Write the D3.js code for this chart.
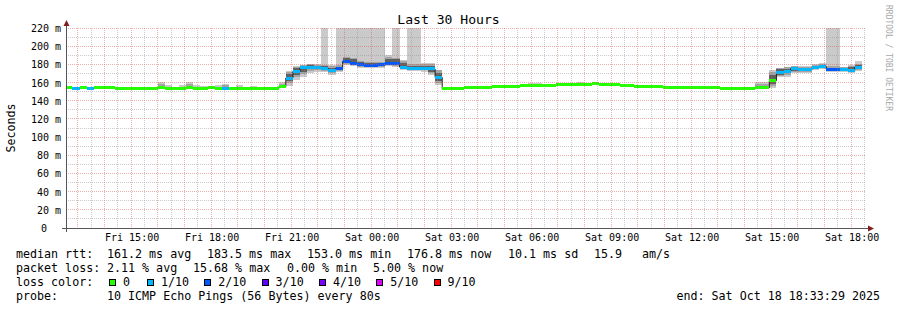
<!DOCTYPE html>
<html>
<head>
<meta charset="utf-8">
<script src="https://cdnjs.cloudflare.com/ajax/libs/d3/7.8.5/d3.min.js"></script>
<style>
    body { margin: 0; background: #ffffff; }
    svg { display: block; }
    text { font-family: "DejaVu Sans Mono", monospace; white-space: pre; fill: #000000; }
</style>
</head>
<body>
<div id="chart"></div>
<script>
//chart data
var title = "Last 30 Hours";
var yLabel = "Seconds";
var startTime = "2025-10-17T12:33:29Z";
var endTime = "2025-10-18T18:33:29Z";

//rrd bins are 16 minutes wide, first one starts Fri 12:32
var binStart = "2025-10-17T12:32:00Z";
var binMinutes = 16;

//median rtt (ms) per bin
var medianRtt = [
    154.2, 153.6, 154.2, 153.6, 154.2, 154.2, 154.2, 153.6, 153.6, 153.6,
    153.0, 153.0, 153.0, 154.2, 153.3, 153.3, 153.3, 154.8, 153.3, 153.3,
    154.2, 153.0, 153.9, 153.0, 153.0, 153.0, 153.0, 153.0, 153.0, 153.0,
    155.3, 165.0, 172.2, 176.4, 177.1, 176.4, 175.3, 173.4, 175.6, 183.5,
    181.5, 179.8, 178.9, 178.9, 179.3, 180.5, 180.4, 177.0, 175.9, 175.6,
    175.3, 174.9, 165.7, 153.0, 153.0, 153.0, 154.2, 154.2, 154.2, 154.8,
    155.5, 155.5, 155.5, 155.9, 156.4, 156.6, 156.6, 156.8, 156.8, 157.5,
    157.5, 157.5, 157.8, 158.3, 159.0, 157.6, 157.6, 157.6, 156.8, 156.8,
    156.1, 155.7, 155.7, 155.7, 155.0, 154.6, 154.6, 154.1, 154.1, 154.1,
    154.1, 154.1, 153.4, 153.4, 153.0, 153.0, 153.0, 154.2, 154.2, 162.1,
    170.7, 172.4, 175.5, 174.2, 174.2, 176.6, 177.7, 174.6, 174.6, 174.6,
    173.3, 176.8
];

//loss bucket per bin (index into lossLabels / lossColors)
var lossLevel = [
    0, 1, 0, 1, 0, 0, 0, 0, 0, 0,
    0, 0, 0, 0, 0, 0, 0, 0, 0, 0,
    0, 0, 1, 0, 0, 0, 0, 0, 0, 0,
    0, 1, 1, 1, 1, 1, 1, 1, 2, 2,
    2, 2, 2, 2, 2, 2, 2, 1, 1, 1,
    1, 1, 1, 0, 0, 0, 0, 0, 0, 0,
    0, 0, 0, 0, 0, 0, 0, 0, 0, 0,
    0, 0, 0, 0, 0, 0, 0, 0, 0, 0,
    0, 0, 0, 0, 0, 0, 0, 0, 0, 0,
    0, 0, 0, 0, 0, 0, 0, 0, 0, 0,
    1, 1, 1, 1, 1, 1, 1, 2, 2, 1,
    1, 1
];

//smoke (ping spread) for the bins that show any, values above 220 run off the top
var smokeBin = [
    13, 14, 15, 16, 17, 18, 19, 21, 22, 24, 26, 30,
    31, 32, 33, 34, 35, 36, 37, 38, 39, 40, 41, 42, 43, 44, 45, 46, 47, 48, 49, 50, 51, 52,
    61, 65, 66, 72, 94, 97, 98,
    99, 100, 101, 102, 103, 104, 105, 106, 107, 108, 109, 110, 111
];
var smokeOuterLo = [
    154.2, 153.3, 153.3, 153.3, 154.8, 153.3, 153.3, 153.0, 153.9, 153.0, 153.0, 155.3,
    156.5, 162.8, 166.3, 170.7, 171.8, 172.0, 168.3, 172.0, 179.0, 178.0, 176.5, 176.0, 176.0, 176.5, 178.0, 177.5, 174.0, 173.0, 173.0, 172.0, 168.2, 157.2,
    155.5, 156.6, 156.6, 157.8, 153.0, 154.2, 154.2,
    153.5, 165.6, 166.5, 170.0, 171.0, 171.0, 173.5, 174.5, 172.0, 172.0, 172.0, 171.0, 172.5
];
var smokeOuterHi = [
    160.1, 157.2, 155.5, 157.2, 160.8, 157.2, 156.0, 157.2, 158.3, 157.2, 156.0, 160.1,
    172.6, 178.5, 179.8, 180.5, 180.2, 235, 178.8, 235, 235, 235, 235, 235, 235, 235, 190.0, 235, 185.0, 235, 235, 181.7, 181.0, 174.0,
    157.8, 160.0, 160.0, 160.6, 155.5, 160.1, 160.1,
    173.7, 176.5, 177.5, 178.5, 178.5, 178.5, 180.0, 181.5, 235, 235, 177.5, 179.0, 183.5
];
var smokeMidLo = [
    154.2, null, null, null, 154.8, null, null, null, 153.9, null, null, 155.3,
    159.0, 166.5, 169.0, 173.0, 173.5, 173.0, 170.0, 173.0, 180.0, 179.0, 177.5, 177.0, 177.0, 177.5, 179.0, 178.5, 175.0, 173.5, 174.0, 173.5, 170.0, 159.5,
    null, null, null, null, null, 154.2, 154.2,
    156.0, 167.0, 168.0, 171.5, 172.0, 172.0, 174.5, 175.5, 173.0, 173.0, 173.0, 172.0, 174.0
];
var smokeMidHi = [
    158.0, null, null, null, 158.5, null, null, null, 156.8, null, null, 158.3,
    172.0, 177.5, 179.0, 180.0, 179.5, 179.5, 178.0, 179.0, 188.5, 187.0, 184.0, 183.0, 182.5, 183.0, 188.0, 187.0, 184.0, 180.0, 180.0, 180.0, 180.0, 173.5,
    null, null, null, null, null, 158.3, 158.3,
    172.0, 176.0, 177.0, 178.0, 177.5, 177.5, 179.5, 180.5, 178.0, 178.0, 177.0, 178.0, 180.5
];
var smokeInnerLo = [
    null, null, null, null, null, null, null, null, null, null, null, null,
    162.0, 168.5, 172.0, 175.0, 175.0, 174.0, 171.5, 174.0, 181.5, 180.0, 178.5, 178.0, 178.0, 178.0, 179.5, 179.0, 176.0, 174.5, 175.0, 174.5, 172.0, 161.5,
    null, null, null, null, null, null, null,
    158.0, 168.5, 170.0, 173.0, 172.5, 172.5, 175.5, 176.5, 173.5, 173.5, 173.5, 172.5, 175.0
];
var smokeInnerHi = [
    null, null, null, null, null, null, null, null, null, null, null, null,
    169.0, 176.0, 178.0, 179.0, 178.5, 178.0, 176.5, 177.5, 186.5, 185.5, 182.5, 181.5, 181.0, 182.0, 185.5, 185.5, 182.0, 178.0, 178.0, 178.0, 178.0, 170.0,
    null, null, null, null, null, null, null,
    168.0, 174.5, 175.0, 177.0, 176.5, 176.5, 178.5, 179.5, 176.5, 176.5, 176.0, 177.0, 179.0
];

var yTicks = [0, 20, 40, 60, 80, 100, 120, 140, 160, 180, 200, 220];
var yTickLabels = ["0", "20 m", "40 m", "60 m", "80 m", "100 m", "120 m", "140 m", "160 m", "180 m", "200 m", "220 m"];
var yMinorTicks = [10, 30, 50, 70, 90, 110, 130, 150, 170, 190, 210];

//legend texts
var rttStats = ["161.2 ms avg", "183.5 ms max", "153.0 ms min", "176.8 ms now", "10.1 ms sd", "15.9", "am/s"];
var lossStats = ["2.11 % avg", "15.68 % max", "0.00 % min", "5.00 % now"];
var lossLabels = ["0", "1/10", "2/10", "3/10", "4/10", "5/10", "9/10"];
var lossColors = ["#26ff00", "#00b8ff", "#0059ff", "#5e00ff", "#7e00ff", "#dd00ff", "#ff0000"];
var probeText = "10 ICMP Echo Pings (56 Bytes) every 80s";
var endText = "end: Sat Oct 18 18:33:29 2025";
var watermark = "RRDTOOL / TOBI OETIKER";

//layout
var W = 897, H = 310;
var plot = { left: 66, right: 866, top: 28, bottom: 228 };

var svg = d3.select("#chart").append("svg")
    .attr("width", W)
    .attr("height", H);

svg.append("rect")
    .attr("width", W)
    .attr("height", H)
    .attr("fill", "#ffffff");

var x = d3.scaleUtc()
    .domain([d3.isoParse(startTime), d3.isoParse(endTime)])
    .range([plot.left, plot.right]);

var y = d3.scaleLinear()
    .domain([0, 220])
    .range([plot.bottom, plot.top]);

var t0 = d3.isoParse(binStart);
function binTime(i) {
    return d3.utcMinute.offset(t0, i * binMinutes);
}
function px(v) { return Math.floor(v) + 0.5; }

svg.append("clipPath")
    .attr("id", "plotclip")
    .append("rect")
    .attr("x", plot.left)
    .attr("y", plot.top)
    .attr("width", plot.right - plot.left)
    .attr("height", plot.bottom - plot.top);

var dataG = svg.append("g")
    .attr("clip-path", "url(#plotclip)");

//smoke, outer pair lightest
var bands = [
    { lo: smokeOuterLo, hi: smokeOuterHi, color: "#cacaca" },
    { lo: smokeMidLo, hi: smokeMidHi, color: "#a4a4a4" },
    { lo: smokeInnerLo, hi: smokeInnerHi, color: "#616161" }
];

bands.forEach(function (band) {
    var rows = smokeBin.map(function (b, k) {
        return { bin: b, lo: band.lo[k], hi: band.hi[k] };
    }).filter(function (d) { return d.lo != null; });

    dataG.append("g")
        .selectAll("rect")
        .data(rows)
        .enter().append("rect")
        .attr("x", function (d) { return Math.round(x(binTime(d.bin))); })
        .attr("width", function (d) { return Math.round(x(binTime(d.bin + 1))) - Math.round(x(binTime(d.bin))); })
        .attr("y", function (d) { return Math.round(y(d.hi)); })
        .attr("height", function (d) { return Math.round(y(d.lo)) - Math.round(y(d.hi)); })
        .attr("fill", band.color)
        .attr("shape-rendering", "crispEdges");
});

//black median step line
var stepPts = medianRtt.map(function (v, i) { return [x(binTime(i)), y(v)]; });
stepPts.push([x(binTime(medianRtt.length)), y(medianRtt[medianRtt.length - 1])]);

dataG.append("path")
    .attr("d", d3.line().curve(d3.curveStepAfter)(stepPts))
    .attr("fill", "none")
    .attr("stroke", "#202020")
    .attr("stroke-width", 1);

//median bar coloured by loss
dataG.append("g")
    .selectAll("rect")
    .data(medianRtt)
    .enter().append("rect")
    .attr("x", function (d, i) { return Math.round(x(binTime(i))); })
    .attr("width", function (d, i) { return Math.round(x(binTime(i + 1))) - Math.round(x(binTime(i))); })
    .attr("y", function (d) { return Math.round(y(d) - 1.5); })
    .attr("height", 3)
    .attr("fill", function (d, i) { return lossColors[lossLevel[i]]; })
    .attr("shape-rendering", "crispEdges");

//grid on top, rrdtool style dotted lines
var gridG = svg.append("g");
var xDom = x.domain();

var minorTimes = d3.utcMinute.every(30).range(xDom[0], xDom[1]).filter(function (t) {
    return t.getUTCMinutes() !== 0;
});
var majorTimes = d3.utcHour.range(xDom[0], xDom[1]);

function gridLines(cls, data, vertical, color) {
    gridG.selectAll("." + cls)
        .data(data)
        .enter().append("line")
        .attr("class", cls)
        .attr("x1", function (d) { return vertical ? px(x(d)) : plot.left; })
        .attr("x2", function (d) { return vertical ? px(x(d)) : plot.right; })
        .attr("y1", function (d) { return vertical ? plot.top : px(y(d)); })
        .attr("y2", function (d) { return vertical ? plot.bottom : px(y(d)); })
        .attr("stroke", color)
        .attr("stroke-opacity", 0.45)
        .attr("stroke-dasharray", "1,1");
}

gridLines("xminor", minorTimes, true, "#8f8f8f");
gridLines("yminor", yMinorTicks, false, "#8f8f8f");
gridLines("xmajor", majorTimes, true, "#de5050");
gridLines("ymajor", yTicks.filter(function (d) { return d > 0; }), false, "#de5050");

//axes
svg.append("line")
    .attr("x1", plot.left - 4).attr("x2", plot.right + 4)
    .attr("y1", plot.bottom + 0.5).attr("y2", plot.bottom + 0.5)
    .attr("stroke", "#555555");
svg.append("line")
    .attr("x1", plot.left + 0.5).attr("x2", plot.left + 0.5)
    .attr("y1", plot.bottom + 4).attr("y2", plot.top - 4)
    .attr("stroke", "#555555");

//arrows
svg.append("path")
    .attr("d", "M" + (plot.left - 2.5) + "," + (plot.top - 2) + "L" + (plot.left + 3.5) + "," + (plot.top - 2) +
        "L" + (plot.left + 0.5) + "," + (plot.top - 8) + "Z")
    .attr("fill", "#801f1f");
svg.append("path")
    .attr("d", "M" + (plot.right + 2) + "," + (plot.bottom - 2.5) + "L" + (plot.right + 2) + "," + (plot.bottom + 3.5) +
        "L" + (plot.right + 8) + "," + (plot.bottom + 0.5) + "Z")
    .attr("fill", "#801f1f");

//tick labels
svg.append("g")
    .selectAll("text")
    .data(yTicks)
    .enter().append("text")
    .attr("x", function (d) { return d === 0 ? 47 : 61; })
    .attr("y", function (d) { return y(d) + 4; })
    .attr("text-anchor", "end")
    .style("font-size", "10px")
    .text(function (d, i) { return yTickLabels[i]; });

var labelTimes = d3.utcHour.every(3).range(xDom[0], xDom[1]);
var labelFmt = d3.utcFormat("%a %H:%M");

svg.append("g")
    .selectAll("text")
    .data(labelTimes)
    .enter().append("text")
    .attr("x", function (d) { return x(d) + 1; })
    .attr("y", 241)
    .attr("text-anchor", "middle")
    .style("font-size", "10px")
    .text(function (d) { return labelFmt(d); });

//title and axis label
svg.append("text")
    .attr("x", W / 2)
    .attr("y", 23.5)
    .attr("text-anchor", "middle")
    .style("font-size", "13.1px")
    .text(title);

svg.append("text")
    .attr("transform", "translate(15," + ((plot.top + plot.bottom) / 2) + ") rotate(-90)")
    .attr("text-anchor", "middle")
    .style("font-size", "11.67px")
    .text(yLabel);

svg.append("text")
    .attr("transform", "translate(886,5) rotate(90)")
    .attr("text-anchor", "start")
    .style("font-size", "8px")
    .style("fill", "#a8a8a8")
    .text(watermark);

//legend
var legG = svg.append("g").style("font-size", "11.67px");

function legendRow(items, yPos) {
    items.forEach(function (it) {
        legG.append("text")
            .attr("x", it[1])
            .attr("y", yPos)
            .text(it[0]);
    });
}

legendRow([["median rtt:", 16], [rttStats[0], 107], [rttStats[1], 207], [rttStats[2], 307],
    [rttStats[3], 407], [rttStats[4], 508], [rttStats[5], 594], [rttStats[6], 642]], 258);
legendRow([["packet loss:", 16], [lossStats[0], 107], [lossStats[1], 193], [lossStats[2], 287],
    [lossStats[3], 373]], 272);
legendRow([["loss color:", 16]], 286);
legendRow([["probe:", 16], [probeText, 107]], 300);

legG.append("text")
    .attr("x", 880)
    .attr("y", 300)
    .attr("text-anchor", "end")
    .text(endText);

var sw = legG.selectAll(".swatch")
    .data(lossLabels)
    .enter().append("g")
    .attr("class", "swatch")
    .attr("transform", function (d, i) {
        var sx = i === 0 ? 109 : 147 + (i - 1) * 57.3;
        return "translate(" + sx + ",0)";
    });

sw.append("rect")
    .attr("x", 0.5)
    .attr("y", 279.5)
    .attr("width", 6)
    .attr("height", 6)
    .attr("fill", function (d, i) { return lossColors[i]; })
    .attr("stroke", "#000000")
    .attr("shape-rendering", "crispEdges");

sw.append("text")
    .attr("x", 14)
    .attr("y", 286)
    .text(function (d) { return d; });
</script>
</body>
</html>
